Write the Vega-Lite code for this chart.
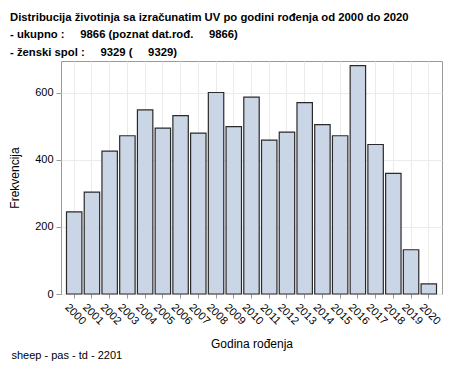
{
  "$schema": "https://vega.github.io/schema/vega-lite/v6.json",
  "autosize": {"type": "none"},
  "width": 381,
  "height": 233,
  "padding": {"left": 61, "top": 61, "right": 12, "bottom": 84},
  "background": "white",
  "title": {
    "text": [
      "Distribucija životinja sa izračunatim UV po godini rođenja od 2000 do 2020",
      "- ukupno :\u00a0\u00a0\u00a0\u00a0\u00a09866 (poznat dat.rođ.\u00a0\u00a0\u00a0\u00a0\u00a09866)",
      "- ženski spol :\u00a0\u00a0\u00a0\u00a0\u00a09329 (\u00a0\u00a0\u00a0\u00a0\u00a09329)"
    ],
    "anchor": "start",
    "frame": "group",
    "dx": -51,
    "fontSize": 11.3,
    "fontWeight": "bold",
    "font": "Liberation Sans",
    "color": "#000000",
    "lineHeight": 17.5,
    "offset": 3
  },
  "data": {
    "values": [
      {"year": "2000", "count": 245},
      {"year": "2001", "count": 304},
      {"year": "2002", "count": 426},
      {"year": "2003", "count": 472},
      {"year": "2004", "count": 549},
      {"year": "2005", "count": 495},
      {"year": "2006", "count": 532},
      {"year": "2007", "count": 480},
      {"year": "2008", "count": 601},
      {"year": "2009", "count": 499},
      {"year": "2010", "count": 587},
      {"year": "2011", "count": 459},
      {"year": "2012", "count": 483},
      {"year": "2013", "count": 571},
      {"year": "2014", "count": 505},
      {"year": "2015", "count": 472},
      {"year": "2016", "count": 681},
      {"year": "2017", "count": 446},
      {"year": "2018", "count": 360},
      {"year": "2019", "count": 132},
      {"year": "2020", "count": 30}
    ]
  },
  "layer": [
    {
      "mark": {"type": "bar", "fill": "#CAD5E5", "stroke": "#2a2a2a", "strokeWidth": 1.2},
      "encoding": {
        "x": {
          "field": "year",
          "type": "ordinal",
          "scale": {"paddingInner": 0.13, "paddingOuter": 0.31},
          "axis": {
            "title": "Godina rođenja",
            "titleFont": "Liberation Sans",
            "titleFontSize": 12,
            "titleFontWeight": "normal",
            "titleColor": "#000000",
            "titlePadding": 12,
            "labelAngle": 45,
            "labelAlign": "center",
            "labelBaseline": "middle",
            "labelPadding": 16,
            "labelOffset": 1,
            "labelFont": "Liberation Sans",
            "labelFontSize": 11,
            "labelColor": "#000000",
            "tickSize": 4,
            "tickColor": "#999999",
            "domain": false,
            "grid": true,
            "gridColor": "#ebebeb",
            "gridWidth": 1
          }
        },
        "y": {
          "field": "count",
          "type": "quantitative",
          "scale": {"domain": [0, 695], "nice": false},
          "axis": {
            "title": "Frekvencija",
            "titleFont": "Liberation Sans",
            "titleFontSize": 12,
            "titleFontWeight": "normal",
            "titleColor": "#000000",
            "titlePadding": 13,
            "values": [0, 200, 400, 600],
            "labelFont": "Liberation Sans",
            "labelFontSize": 11,
            "labelColor": "#000000",
            "labelPadding": 3,
            "tickSize": 5,
            "tickColor": "#999999",
            "domain": false,
            "grid": true,
            "gridColor": "#ebebeb",
            "gridWidth": 1
          }
        }
      }
    },
    {
      "mark": {"type": "bar", "opacity": 0},
      "encoding": {
        "x": {
          "field": "year",
          "type": "ordinal",
          "axis": {
            "orient": "bottom",
            "title": "sheep - pas - td - 2201",
            "titleX": -50,
            "titleY": 61,
            "titleAlign": "left",
            "titleBaseline": "middle",
            "titleAngle": 0,
            "titleFont": "Liberation Sans",
            "titleFontSize": 11,
            "titleFontWeight": "normal",
            "titleColor": "#000000",
            "labels": false,
            "ticks": false,
            "domain": false,
            "grid": false
          }
        },
        "y": {"field": "count", "type": "quantitative"}
      }
    }
  ],
  "resolve": {"axis": {"x": "independent"}},
  "config": {
    "view": {"stroke": "#9a9a9a", "strokeWidth": 1}
  }
}
